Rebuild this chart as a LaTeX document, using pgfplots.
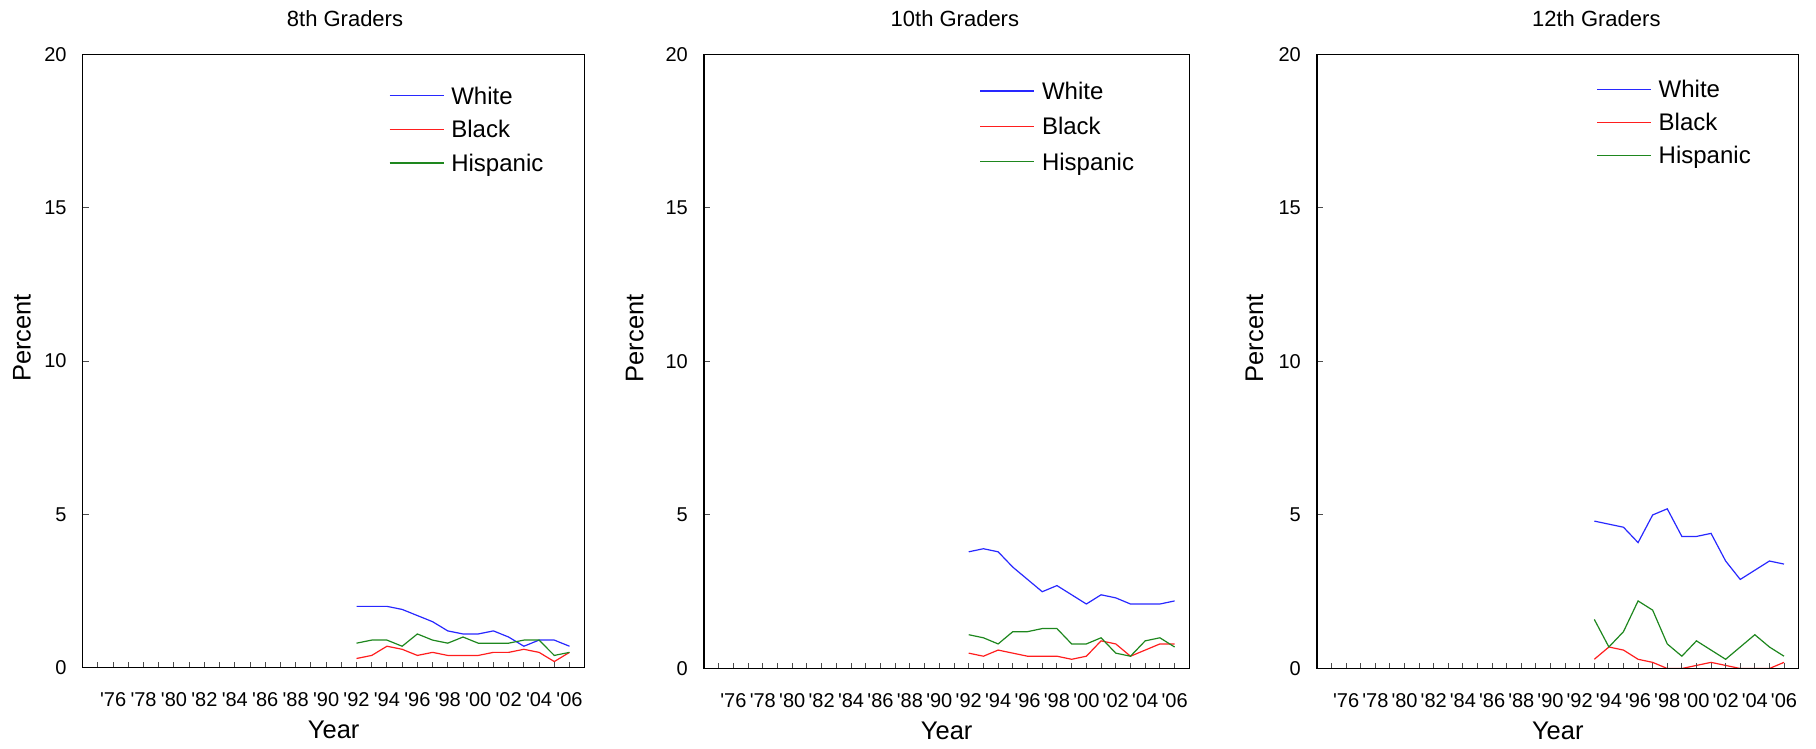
\documentclass[border=0pt]{standalone}
\usepackage{fontspec}
\setmainfont{Liberation Sans}[Ligatures=TeXOff]
\usepackage{pgfplots}
\pgfplotsset{compat=1.18}
\definecolor{cW}{RGB}{40,40,255}
\definecolor{cB}{RGB}{255,30,30}
\definecolor{cH}{RGB}{30,135,30}
\newcommand{\titf}{\fontsize{22}{26}\selectfont}
\newcommand{\labf}{\fontsize{25.5}{30}\selectfont}
\newcommand{\legf}{\fontsize{24}{28}\selectfont}
\newcommand{\tickf}{\fontsize{20}{24}\selectfont}
\pgfplotsset{
  every axis title shift=0pt,
  panel/.style={
    scale only axis,
    anchor=south west,
    xmin=1974, xmax=2007, ymin=0, ymax=20,
    axis on top,
    axis line style={black, line width=1.3pt},
    tick style={black!70, line width=1pt},
    tick align=inside,
    tick pos=left,
    major tick length=6pt, minor tick length=6pt,
    xtick={1976,1978,...,2006},
    xticklabels={'76,'78,'80,'82,'84,'86,'88,'90,'92,'94,'96,'98,'00,'02,'04,'06},
    minor xtick={1975,1977,...,2005},
    ytick={0,5,10,15,20},
    /pgf/number format/assume math mode=true,
    xticklabel style={font=\tickf, anchor=base, inner sep=0pt, yshift=-38.5pt},
    yticklabel style={font=\tickf, anchor=east, inner sep=0pt, xshift=-16pt},
    title style={font=\titf, anchor=base, inner sep=0pt},
    xlabel={Year}, ylabel={Percent},
    xlabel style={font=\labf, anchor=base, inner sep=0pt, at={(rel axis cs:0.5,-0.115)}},
    ylabel style={font=\labf, anchor=center, inner sep=0pt},
    legend cell align=left,
    legend image code/.code={\draw[#1, line width=1.2pt] (0pt,2.5pt) -- (54pt,2.5pt);},
    legend style={draw=none, fill=none, inner sep=0pt, anchor=north west,
      font=\legf, row sep=0pt,
      /tikz/every odd column/.append style={column sep=4pt},
      nodes={text height=17pt, text depth=5pt, inner ysep=5.8pt, inner xsep=3pt}},
    every axis plot/.append style={line width=1.2pt, mark=none},
  }
}
\begin{document}
\begin{tikzpicture}
\path[use as bounding box] (0pt,0pt) rectangle (1816pt,748pt);

% 8th graders
\begin{axis}[panel, at={(82.7pt,80.3pt)}, width=502pt, height=613.4pt,
  title={8th Graders}, title style={at={(rel axis cs:0.5225,1.045)}},
  ylabel style={at={(rel axis cs:-0.121,0.5375)}},
  legend style={at={(rel axis cs:0.610,0.956)}}]
\addplot[cW] coordinates {(1992,2.0)(1993,2.0)(1994,2.0)(1995,1.9)(1996,1.7)(1997,1.5)(1998,1.2)(1999,1.1)(2000,1.1)(2001,1.2)(2002,1.0)(2003,0.7)(2004,0.9)(2005,0.9)(2006,0.7)};
\addlegendentry{White}
\addplot[cB] coordinates {(1992,0.3)(1993,0.4)(1994,0.7)(1995,0.6)(1996,0.4)(1997,0.5)(1998,0.4)(1999,0.4)(2000,0.4)(2001,0.5)(2002,0.5)(2003,0.6)(2004,0.5)(2005,0.2)(2006,0.5)};
\addlegendentry{Black}
\addplot[cH] coordinates {(1992,0.8)(1993,0.9)(1994,0.9)(1995,0.7)(1996,1.1)(1997,0.9)(1998,0.8)(1999,1.0)(2000,0.8)(2001,0.8)(2002,0.8)(2003,0.9)(2004,0.9)(2005,0.4)(2006,0.5)};
\addlegendentry{Hispanic}
\end{axis}

% 10th graders
\begin{axis}[panel, at={(704pt,79.5pt)}, width=485.3pt, height=614.2pt,
  title={10th Graders}, title style={at={(rel axis cs:0.517,1.045)}},
  ylabel style={at={(rel axis cs:-0.143,0.5375)}},
  legend style={at={(rel axis cs:0.568,0.964)}, row sep=1.8pt}]
\addplot[cW] coordinates {(1992,3.8)(1993,3.9)(1994,3.8)(1995,3.3)(1996,2.9)(1997,2.5)(1998,2.7)(1999,2.4)(2000,2.1)(2001,2.4)(2002,2.3)(2003,2.1)(2004,2.1)(2005,2.1)(2006,2.2)};
\addlegendentry{White}
\addplot[cB] coordinates {(1992,0.5)(1993,0.4)(1994,0.6)(1995,0.5)(1996,0.4)(1997,0.4)(1998,0.4)(1999,0.3)(2000,0.4)(2001,0.9)(2002,0.8)(2003,0.4)(2004,0.6)(2005,0.8)(2006,0.8)};
\addlegendentry{Black}
\addplot[cH] coordinates {(1992,1.1)(1993,1.0)(1994,0.8)(1995,1.2)(1996,1.2)(1997,1.3)(1998,1.3)(1999,0.8)(2000,0.8)(2001,1.0)(2002,0.5)(2003,0.4)(2004,0.9)(2005,1.0)(2006,0.7)};
\addlegendentry{Hispanic}
\end{axis}

% 12th graders
\begin{axis}[panel, at={(1317pt,79.5pt)}, width=481.6pt, height=614.2pt,
  title={12th Graders}, title style={at={(rel axis cs:0.580,1.045)}},
  ylabel style={at={(rel axis cs:-0.130,0.5375)}},
  legend style={at={(rel axis cs:0.580,0.9665)}, row sep=-0.7pt}]
\addplot[cW] coordinates {(1993,4.8)(1994,4.7)(1995,4.6)(1996,4.1)(1997,5.0)(1998,5.2)(1999,4.3)(2000,4.3)(2001,4.4)(2002,3.5)(2003,2.9)(2004,3.2)(2005,3.5)(2006,3.4)};
\addlegendentry{White}
\addplot[cB] coordinates {(1993,0.3)(1994,0.7)(1995,0.6)(1996,0.3)(1997,0.2)(1998,0.0)(1999,0.0)(2000,0.1)(2001,0.2)(2002,0.1)(2003,0.0)(2004,0.0)(2005,0.0)(2006,0.2)};
\addlegendentry{Black}
\addplot[cH] coordinates {(1993,1.6)(1994,0.7)(1995,1.2)(1996,2.2)(1997,1.9)(1998,0.8)(1999,0.4)(2000,0.9)(2001,0.6)(2002,0.3)(2003,0.7)(2004,1.1)(2005,0.7)(2006,0.4)};
\addlegendentry{Hispanic}
\end{axis}
\end{tikzpicture}
\end{document}
